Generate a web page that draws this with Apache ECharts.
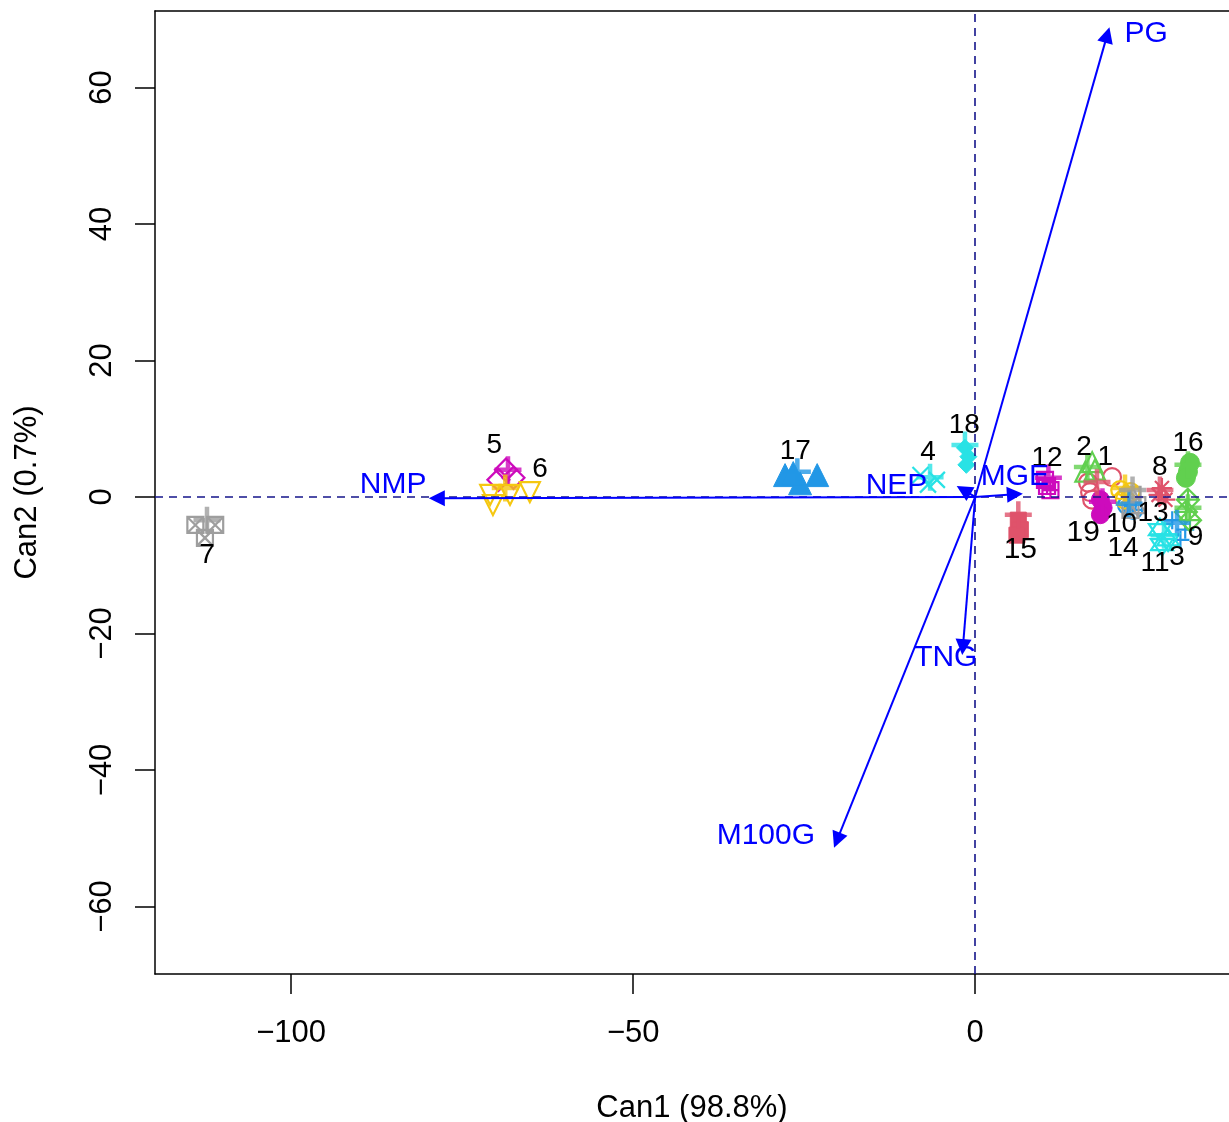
<!DOCTYPE html>
<html><head><meta charset="utf-8">
<script src="https://cdn.jsdelivr.net/npm/echarts@6/dist/echarts.min.js"></script>
<style>html,body{margin:0;padding:0;background:#fff}#c{width:1229px;height:1122px}</style>
</head><body><div id="c"></div>
<script>
// ---------- data ----------
const groupNames = ['1','2','3','4','5','6','7','8','9','10','11','12','13','14','15','16','17','18','19'];
const palette = ['#DF536B','#61D04F','#2297E6','#28E2E5','#CD0BBC','#F5C710','#9E9E9E'];
// observations (Can1, Can2) per group
const g1  = [[20.0,2.9],[16.5,2.1],[16.8,0.7],[17.1,-0.4]];
const g2  = [[17.1,5.1],[16.1,3.7],[17.5,4.0]];
const g3  = [[30.0,-6.3],[30.7,-4.8],[28.8,-3.4]];
const g4  = [[-8.0,3.2],[-5.6,2.5],[-6.9,1.8]];
const g5  = [[-69.7,2.5],[-67.5,2.8],[-68.6,4.0]];
const g6  = [[-70.9,0.3],[-70.5,-1.2],[-65.1,0.7],[-68.0,0.3]];
const g7  = [[-114.0,-4.1],[-111.1,-4.1],[-112.6,-6.0]];
const g8  = [[27.3,1.3],[26.8,0.3],[27.8,-0.4]];
const g9  = [[31.1,-0.4],[30.8,-2.2],[31.4,-3.4]];
const g10 = [[22.2,-1.2],[23.1,-1.9]];
const g11 = [[27.0,-4.8],[28.2,-6.3],[27.3,-7.0]];
const g12 = [[10.2,2.5],[11.0,1.0],[10.5,1.6]];
const g13 = [[21.2,1.0],[22.7,0.7],[21.9,-0.4]];
const g14 = [[23.0,0.3],[23.7,-1.2],[22.7,-1.9]];
const g15 = [[6.3,-3.4],[6.6,-4.8],[6.1,-5.6]];
const g16 = [[31.4,5.0],[31.1,3.7],[30.8,2.8]];
const g17 = [[-27.8,3.2],[-23.1,3.2],[-25.6,2.0],[-26.6,3.5]];
const g18 = [[-1.5,7.2],[-1.0,5.9],[-1.3,4.7]];
const g19 = [[18.3,-0.4],[18.7,-1.6],[18.3,-2.6]];
const groupPoints = [g1,g2,g3,g4,g5,g6,g7,g8,g9,g10,g11,g12,g13,g14,g15,g16,g17,g18,g19];
// group means
const groupMeans = [[17.8,2.2],[16.4,4.4],[29.5,-3.8],[-6.6,2.9],[-68.3,4.0],[-68.7,1.3],[-112.3,-3.4],
  [27.0,1.0],[31.1,-1.6],[22.5,-1.0],[27.6,-5.6],[10.7,2.8],[21.9,1.3],[23.0,1.0],[6.3,-2.6],
  [31.1,4.7],[-26.0,3.7],[-1.5,7.6],[18.6,-0.7]];
// group label anchor positions (data units)
const groupLabelPos = [[19.0,5.8],[15.9,7.3],[29.5,-8.8],[-6.9,6.6],[-70.3,7.6],[-63.6,4.0],[-112.3,-8.6],
  [27.0,4.4],[32.2,-5.9],[21.4,-4.0],[26.3,-9.7],[10.5,5.7],[26.0,-2.4],[21.6,-7.5],[6.6,-7.8],
  [31.1,7.9],[-26.3,6.7],[-1.6,10.5],[15.8,-5.2]];
// structure vectors
const vectorNames = ['PG','NMP','NEP','MGE','TNG','M100G'];
const vectorEnds = [[19.3,67.7],[-78.7,-0.2],[-1.7,1.0],[5.8,0.4],[-1.8,-22.0],[-20.2,-50.3]];
const vectorLabelPos = [[25.0,67.8],[-85.1,1.8],[-11.5,1.6],[5.8,2.9],[-4.3,-23.6],[-30.6,-49.7]];
// axis ticks
const xTicks = [-100,-50,0];
const yTicks = [-60,-40,-20,0,20,40,60];

// ---------- symbols (R pch 1..19) ----------
const CIRC = 'M0 10A10 10 0 1 1 20 10A10 10 0 1 1 0 10Z';
const pchSym = {
  1:{s:'circle'}, 2:{s:'triangle', size:20}, 3:{s:'path://M10 0V20M0 10H20'},
  4:{s:'path://M0 0L20 20M20 0L0 20', size:16}, 5:{s:'diamond', size:22}, 6:{s:'triangle', rot:180, size:20},
  7:{s:'path://M0 0H20V20H0ZM0 0L20 20M20 0L0 20', size:16},
  8:{s:'path://M10 0V20M0 10H20M3 3L17 17M17 3L3 17', size:20},
  9:{s:'path://M10 0L20 10L10 20L0 10ZM10 0V20M0 10H20', size:22},
  10:{s:'path://'+CIRC+'M10 0V20M0 10H20'},
  11:{s:'path://M10 0L19 15H1ZM10 20L19 5H1Z', size:22},
  12:{s:'path://M0 0H20V20H0ZM10 0V20M0 10H20', size:16},
  13:{s:'path://'+CIRC+'M2.93 2.93L17.07 17.07M17.07 2.93L2.93 17.07'},
  14:{s:'path://M0 0H20V20H0ZM0 20L10 0L20 20', size:16},
  15:{s:'rect', fill:true, size:16}, 16:{s:'circle', fill:true, size:19}, 17:{s:'triangle', fill:true, size:23},
  18:{s:'diamond', fill:true, size:17}, 19:{s:'circle', fill:true}
};

const FONT = 'Liberation Sans, Arial, Helvetica, sans-serif';
const series = [];
groupPoints.forEach((pts, i) => {
  const col = palette[i % 7];
  const p = pchSym[i + 1];
  series.push({
    type:'scatter', data: pts, symbol: p.s, symbolSize: p.size || 18, symbolRotate: p.rot || 0,
    itemStyle: p.fill ? {color: col, borderColor: col, borderWidth: 1, opacity:1}
                      : {color: 'rgba(0,0,0,0)', borderColor: col, borderWidth: 2.2, opacity:1},
    silent: true, z: 2
  });
});
// big "+" at group means
series.push({
  type:'scatter', symbol:'path://M10 0V20M0 10H20', symbolSize: 27, silent:true, z:3,
  data: groupMeans.map((m, i) => ({value: m, itemStyle:{color:'rgba(0,0,0,0)', borderColor: palette[i % 7], borderWidth: 4.5}}))
});
// group labels
series.push({
  type:'scatter', symbolSize: 1, silent:true, z:6,
  itemStyle:{color:'rgba(0,0,0,0)', opacity:1},
  data: groupLabelPos.map((p, i) => ({name: groupNames[i], value: p,
    label:{fontSize: (groupNames[i]==='15'||groupNames[i]==='19') ? 30 : 28}})),
  label:{show:true, position:'inside', formatter:'{b}', color:'#000', opacity:1, fontFamily: FONT,
    textBorderWidth:0, textBorderColor:'transparent', textShadowBlur:0},
  markLine:{silent:true, symbol:['none','none'], label:{show:false},
    lineStyle:{color:'#14148a', type:[8,6], width:1.6},
    data:[{xAxis:0},{yAxis:0}], z:4}
});
// vectors
series.push({
  type:'lines', coordinateSystem:'cartesian2d', silent:true, z:5,
  symbol:['none','triangle'], symbolSize:[8,16],
  lineStyle:{color:'#0000FF', width:2, opacity:1},
  data: vectorEnds.map(e => ({coords:[[0,0], e]}))
});
series.push({
  type:'scatter', symbolSize: 1, silent:true, z:6,
  itemStyle:{color:'rgba(0,0,0,0)', opacity:1},
  data: vectorLabelPos.map((p, i) => ({name: vectorNames[i], value: p})),
  label:{show:true, position:'inside', formatter:'{b}', color:'#0000FF', opacity:1, fontSize:30, fontFamily: FONT,
    textBorderWidth:0, textBorderColor:'transparent'}
});

const minus = v => String(v).replace('-', '\u2212');
const chart = echarts.init(document.getElementById('c'), null, {renderer:'canvas'});
chart.setOption({
  animation:false,
  backgroundColor:'#fff',
  grid:{left:155, right:0, top:11, bottom:148, containLabel:false, outerBoundsMode:'none'},
  xAxis:[{
    type:'value', min:-119.9, max:37.1, position:'bottom',
    axisLine:{show:true, onZero:false, lineStyle:{color:'#000', width:1.5}},
    axisTick:{show:true, length:20, inside:false, customValues:xTicks, lineStyle:{color:'#000', width:1.5}},
    axisLabel:{show:true, customValues:xTicks, fontSize:31, color:'#000', fontFamily:FONT, margin:44, formatter: minus},
    splitLine:{show:false},
    name:'Can1 (98.8%)', nameLocation:'middle', nameGap:119,
    nameTextStyle:{fontSize:31, color:'#000', fontFamily:FONT}
  },{
    type:'value', min:-119.9, max:37.1, position:'top',
    axisLine:{show:true, onZero:false, lineStyle:{color:'#000', width:1.5}},
    axisTick:{show:false}, axisLabel:{show:false}, splitLine:{show:false}
  }],
  yAxis:{
    type:'value', min:-69.9, max:71.2,
    axisLine:{show:true, onZero:false, lineStyle:{color:'#000', width:1.5}},
    axisTick:{show:true, length:20, inside:false, customValues:yTicks, lineStyle:{color:'#000', width:1.5}},
    axisLabel:{show:true, customValues:yTicks, fontSize:31, color:'#000', fontFamily:FONT, margin:37, rotate:90, formatter: minus},
    splitLine:{show:false},
    name:'Can2 (0.7%)', nameLocation:'middle', nameGap:112, nameRotate:90,
    nameTextStyle:{fontSize:31, color:'#000', fontFamily:FONT}
  },
  series: series
});
</script></body></html>
